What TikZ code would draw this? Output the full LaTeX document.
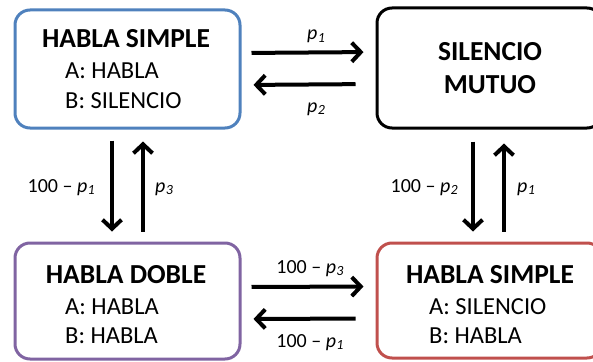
\documentclass[tikz,border=0pt]{standalone}
\usepackage{fontspec}
\setmainfont{Carlito}
\usetikzlibrary{arrows.meta}

\definecolor{boxblue}{HTML}{4F81BD}
\definecolor{boxpurple}{HTML}{8064A2}
\definecolor{boxred}{HTML}{C0504D}

% probability symbol with an italic subscript
\newcommand\prob[1]{\textit{p}\kern0.3pt\raisebox{-0.3ex}{\fontsize{14}{14}\selectfont\itshape #1}}

\tikzset{
  statebox/.style={draw, line width=3pt, rounded corners=15pt, inner sep=0pt},
  title/.style={inner sep=0pt, anchor=base, font=\fontsize{27.5}{30}\selectfont\bfseries},
  line/.style={inner sep=0pt, anchor=base west, font=\fontsize{24.5}{28}\selectfont},
  lbl/.style={inner sep=0pt, anchor=base, font=\fontsize{20}{24}\selectfont},
  arr/.style={line width=4pt, -{Straight Barb[length=9pt,width=19pt]}},
}

\begin{document}
\begin{tikzpicture}[x=1pt,y=-1pt]
  \useasboundingbox (0,0) rectangle (593,361);
  \clip (0,0) rectangle (593,361);

  % state boxes
  \node[statebox, boxblue,   minimum width=225pt, minimum height=118pt] (tl) at (127.5,69) {};
  \node[statebox, black,     minimum width=225pt, minimum height=120pt] (tr) at (489.5,68) {};
  \node[statebox, boxpurple, minimum width=225pt, minimum height=116pt] (bl) at (127.5,301) {};
  \node[statebox, boxred,    minimum width=225pt, minimum height=115pt] (br) at (489.5,300.5) {};

  % texts of the states
  \node[title] (tlt) at (126,48) {HABLA SIMPLE};
  \node[line]  (tla) at (65,78)  {A: HABLA};
  \node[line]  (tlb) at (65,108) {B: SILENCIO};

  \node[title] (trt) at (490,60) {SILENCIO};
  \node[title] (trm) at (490,93) {MUTUO};

  \node[title] (blt) at (126,283) {HABLA DOBLE};
  \node[line]  (bla) at (65,314)  {A: HABLA};
  \node[line]  (blb) at (65,343)  {B: HABLA};

  \node[title] (brt) at (490,283) {HABLA SIMPLE};
  \node[line]  (bra) at (429,314) {A: SILENCIO};
  \node[line]  (brb) at (429,343) {B: HABLA};

  % transitions between the states
  \draw[arr, shorten <=10pt, shorten >=12pt] ([yshift=16pt]tl.east) -- ([yshift=16pt]tr.west);
  \draw[arr, shorten <=20pt, shorten >=12pt] ([yshift=-16pt]tr.west) -- ([yshift=-16pt]tl.east);

  \draw[arr, shorten <=10pt, shorten >=12pt] ([yshift=14pt]bl.east) -- ([yshift=14pt]br.west);
  \draw[arr, shorten <=20pt, shorten >=12pt] ([yshift=-18pt]br.west) -- ([yshift=-18pt]bl.east);

  \draw[arr, shorten <=11pt, shorten >=10pt] ([xshift=-15.5pt]tl.south) -- ([xshift=-15.5pt]bl.north);
  \draw[arr, shorten <=10pt, shorten >=12pt] ([xshift=15.5pt]bl.north) -- ([xshift=15.5pt]tl.south);

  \draw[arr, shorten <=12pt, shorten >=10pt] ([xshift=-16.5pt]tr.south) -- ([xshift=-16.5pt]br.north);
  \draw[arr, shorten <=10pt, shorten >=14pt] ([xshift=14.5pt]br.north) -- ([xshift=14.5pt]tr.south);

  % transition probabilities
  \node[lbl] (l1) at (316,40)  {\prob{1}};
  \node[lbl] (l2) at (316,112) {\prob{2}};
  \node[lbl, anchor=base east] (l3) at (95,192)  {100 -- \prob{1}};
  \node[lbl, anchor=base west] (l4) at (155,192) {\prob{3}};
  \node[lbl, anchor=base east] (l5) at (458,192) {100 -- \prob{2}};
  \node[lbl, anchor=base west] (l6) at (517,192) {\prob{1}};
  \node[lbl] (l7) at (310,273) {100 -- \prob{3}};
  \node[lbl] (l8) at (310,347) {100 -- \prob{1}};
\end{tikzpicture}
\end{document}
